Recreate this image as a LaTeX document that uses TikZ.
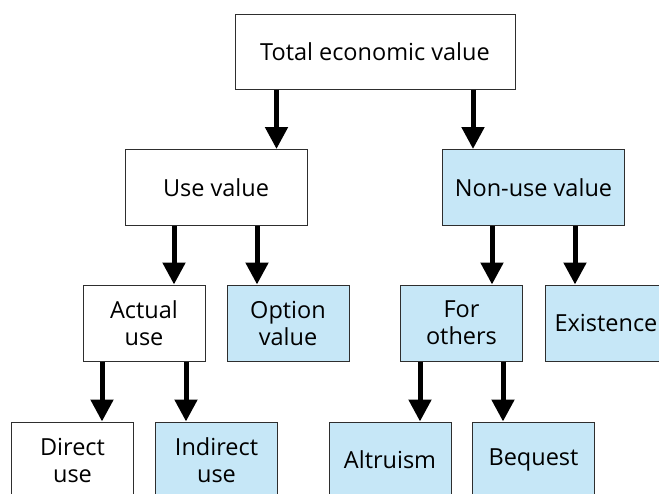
\documentclass[tikz,border=0pt]{standalone}
\usepackage{fontspec}
\setmainfont{Open Sans}
\usetikzlibrary{arrows.meta}
\definecolor{paleblue}{HTML}{C6E7F7}
\definecolor{edgegray}{HTML}{2E2E2E}
\tikzset{
  box/.style={draw=edgegray, line width=1pt, fill=white, rectangle,
    minimum width=122pt, minimum height=76pt, inner sep=0pt,
    align=center, font=\fontsize{23.5}{27}\selectfont},
  wide/.style={minimum width=182pt},
  tinted/.style={fill=paleblue},
  arr/.style={line width=5pt, -{Triangle[width=22pt,length=22pt]}},
}
\begin{document}
\begin{tikzpicture}[x=1pt, y=-1pt]
  \clip (0,0) rectangle (659,493);
  \fill[white] (0,0) rectangle (659,493);

  % tree of values
  \node[box, minimum width=280pt, minimum height=75pt] (tev) at (375,51.5) {Total economic value};
  \node[box, wide] (use) at (216,187.5) {Use value};
  \node[box, wide, tinted] (nonuse) at (533.5,187.5) {Non-use value};
  \node[box] (actual) at (144,323) {Actual\\use};
  \node[box, tinted] (option) at (288,323) {Option\\value};
  \node[box, tinted] (others) at (461.5,323) {For\\others};
  \node[box, tinted] (exist) at (606,323) {Existence};
  \node[box] (direct) at (72.5,460) {Direct\\use};
  \node[box, tinted] (indirect) at (216.5,460) {Indirect\\use};
  \node[box, tinted] (altru) at (390,460) {Altruism};
  \node[box, tinted] (bequest) at (533.5,460) {Bequest};

  % x positions of the connectors
  \coordinate (c1) at (276.5,0);
  \coordinate (c2) at (473,0);
  \coordinate (c3) at (174,0);
  \coordinate (c4) at (257,0);
  \coordinate (c5) at (492,0);
  \coordinate (c6) at (575,0);
  \coordinate (c7) at (102,0);
  \coordinate (c8) at (186,0);
  \coordinate (c9) at (420,0);
  \coordinate (c10) at (503,0);

  \draw[arr] (tev.south -| c1) -- (use.north -| c1);
  \draw[arr] (tev.south -| c2) -- (nonuse.north -| c2);
  \draw[arr] (use.south -| c3) -- (actual.north -| c3);
  \draw[arr] (use.south -| c4) -- (option.north -| c4);
  \draw[arr] (nonuse.south -| c5) -- (others.north -| c5);
  \draw[arr] (nonuse.south -| c6) -- (exist.north -| c6);
  \draw[arr] (actual.south -| c7) -- (direct.north -| c7);
  \draw[arr] (actual.south -| c8) -- (indirect.north -| c8);
  \draw[arr] (others.south -| c9) -- (altru.north -| c9);
  \draw[arr] (others.south -| c10) -- (bequest.north -| c10);
\end{tikzpicture}
\end{document}
